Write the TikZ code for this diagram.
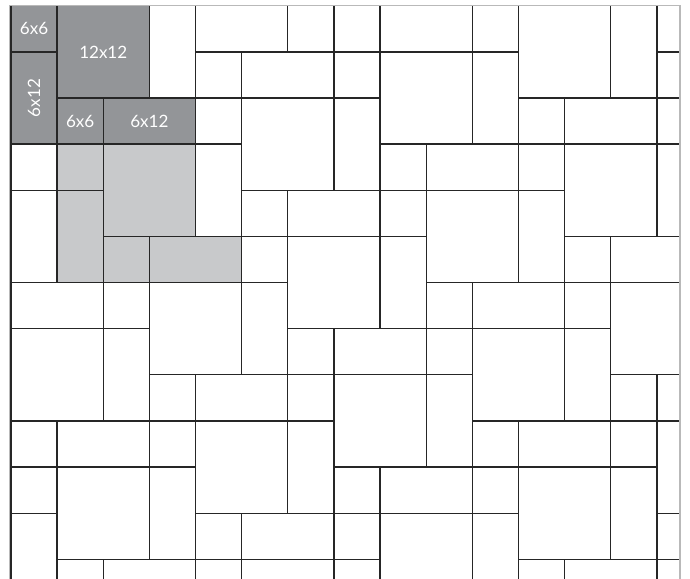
\documentclass[tikz,border=0pt]{standalone}
\usepackage{fontspec}
\newfontfamily\tilefont{Lato}
\usetikzlibrary{positioning}

\definecolor{tiledark}{RGB}{147,149,152}
\definecolor{tilelight}{RGB}{200,201,203}

\tikzset{
  tile/.style={draw=black!85, line width=0.8pt},
  darktile/.style={tile, fill=tiledark},
  lighttile/.style={tile, fill=tilelight},
  frameline/.style={draw=gray!55, line width=0.8pt},
  sizelabel/.style={text=white, font=\tilefont\fontsize{10.5}{12}\selectfont, inner sep=0pt}
}

\begin{document}
\begin{tikzpicture}[line cap=rect, line join=miter]

\useasboundingbox (-0.238,0.124) rectangle (14.717,-12.425);
\begin{scope}
\clip (-0.1,0.1) rectangle (14.5,-12.425);
% plain tiles, x1/row1/x2/row2
\foreach \xa/\ya/\xb/\yb in {
  3/0/4/2, 4/0/6/1, 6/0/7/1, 7/0/8/1, 8/0/10/1, 10/0/11/1, 11/0/13/2, 13/0/14/2, 14/0/15/1,
  4/1/5/2, 5/1/7/2, 7/1/8/2, 8/1/10/3, 10/1/11/3, 14/1/15/2,
  4/2/5/3, 5/2/7/4, 7/2/8/4, 11/2/12/3, 12/2/14/3, 14/2/15/3,
  0/3/1/4, 4/3/5/5, 8/3/9/4, 9/3/11/4, 11/3/12/4, 12/3/14/5, 14/3/15/5,
  0/4/1/6, 5/4/6/5, 6/4/8/5, 8/4/9/5, 9/4/11/6, 11/4/12/6,
  5/5/6/6, 6/5/8/7, 8/5/9/7, 12/5/13/6, 13/5/15/6,
  0/6/2/7, 2/6/3/7, 3/6/5/8, 5/6/6/8, 9/6/10/7, 10/6/12/7, 12/6/13/7, 13/6/15/8,
  0/7/2/9, 2/7/3/9, 6/7/7/8, 7/7/9/8, 9/7/10/8, 10/7/12/9, 12/7/13/9,
  3/8/4/9, 4/8/6/9, 6/8/7/9, 7/8/9/10, 9/8/10/10, 13/8/14/9, 14/8/15/9,
  0/9/1/10, 1/9/3/10, 3/9/4/10, 4/9/6/11, 6/9/7/11, 10/9/11/10, 11/9/13/10, 13/9/14/10, 14/9/15/11,
  0/10/1/11, 1/10/3/12, 3/10/4/12, 7/10/8/11, 8/10/10/11, 10/10/11/11, 11/10/13/12, 13/10/14/12,
  0/11/1/13, 4/11/5/12, 5/11/7/12, 7/11/8/12, 8/11/10/13, 10/11/11/13, 14/11/15/12,
  1/12/2/13, 2/12/4/13, 4/12/5/13, 5/12/7/13, 7/12/8/13, 11/12/12/13, 12/12/14/13, 14/12/15/13}
  \draw[tile, fill=white] (\xa,-\ya) rectangle (\xb,-\yb);
% light grey tiles
\foreach \xa/\ya/\xb/\yb in {1/3/2/4, 2/3/4/5, 1/4/2/6, 2/5/3/6, 3/5/5/6}
  \draw[lighttile] (\xa,-\ya) rectangle (\xb,-\yb);
% dark grey tiles
\foreach \xa/\ya/\xb/\yb in {0/0/1/1, 1/0/3/2, 0/1/1/3, 1/2/2/3, 2/2/4/3}
  \draw[darktile] (\xa,-\ya) rectangle (\xb,-\yb);
\end{scope}

\draw[frameline] (0,0) -- (14.5,0) -- (14.5,-12.425);
\draw[frameline] (-0.03,0) -- (-0.03,-12.425);

\node[sizelabel] (small-a) at (0.5,-0.5) {6x6};
\node[sizelabel] (large) at (2,-1) {12x12};
\node[sizelabel, rotate=90] (long-a) at (0.5,-2) {6x12};
\node[sizelabel] (small-b) at (1.5,-2.5) {6x6};
\node[sizelabel] (long-b) at (3,-2.5) {6x12};

\end{tikzpicture}
\end{document}
